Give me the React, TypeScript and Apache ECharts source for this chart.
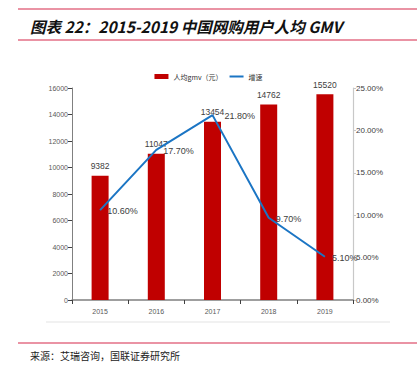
import React, { useEffect, useRef } from "react";
import * as echarts from "echarts";

const categories = ["2015", "2016", "2017", "2018", "2019"];
const gmvValues = [9382, 11047, 13454, 14762, 15520];
const growthValues = [10.6, 17.7, 21.8, 9.7, 5.1];
const titleText = "图表 22：2015-2019 中国网购用户人均 GMV";
const sourceText = "来源：艾瑞咨询，国联证券研究所";

export default function App() {
  const ref = useRef<HTMLDivElement>(null);
  useEffect(() => {
    const chart = echarts.init(ref.current!, null, { renderer: "svg" });
    const red = "#C00000";
    const blue = "#1B75C4";
    chart.setOption({
      animation: false,
      backgroundColor: "#ffffff",
      textStyle: { fontFamily: "Liberation Sans, Arial, sans-serif" },
      graphic: [
        { type: "line", shape: { x1: 18, y1: 9, x2: 417, y2: 9 }, style: { stroke: "#D6284B", lineWidth: 1.2 } },
        { type: "line", shape: { x1: 18, y1: 40, x2: 417, y2: 40 }, style: { stroke: "#D6284B", lineWidth: 1.2 } },
        {
          type: "text", x: 30, y: 26,
          style: { text: titleText, fontSize: 15.5, fontWeight: "bold", fontStyle: "italic", fill: "#111", fontFamily: "Noto Sans CJK SC", verticalAlign: "middle" },
        },
        { type: "line", shape: { x1: 46, y1: 322, x2: 390, y2: 322 }, style: { stroke: "#e3e3e3", lineWidth: 1 } },
        { type: "line", shape: { x1: 18, y1: 343, x2: 417, y2: 343 }, style: { stroke: "#D6284B", lineWidth: 1.2 } },
        {
          type: "text", x: 30, y: 355,
          style: { text: sourceText, fontSize: 10, fill: "#222", fontFamily: "Noto Sans CJK SC", verticalAlign: "middle" },
        },
      ],
      legend: {
        top: 68,
        left: "center",
        itemWidth: 14,
        itemHeight: 5,
        itemGap: 6,
        textStyle: { fontSize: 7, color: "#333", fontFamily: "Noto Sans CJK SC" },
        data: [
          { name: "人均gmv（元）", icon: "rect" },
          { name: "增速", itemStyle: { opacity: 0 } },
        ],
      },
      grid: { left: 72, right: 64, top: 88, bottom: 65 },
      xAxis: {
        type: "category",
        data: categories,
        axisLine: { lineStyle: { color: "#808080", width: 1.5 } },
        axisTick: { show: true, length: 4, lineStyle: { color: "#404040" } },
        axisLabel: { fontSize: 7, color: "#595959", margin: 8 },
      },
      yAxis: [
        {
          type: "value",
          min: 0,
          max: 16000,
          interval: 2000,
          splitLine: { show: false },
          axisLine: { show: true, lineStyle: { color: "#808080", width: 1 } },
          axisTick: { show: true, length: 4, lineStyle: { color: "#404040" } },
          axisLabel: { fontSize: 7, color: "#595959", margin: 4, formatter: (v: number) => String(v) },
        },
        {
          type: "value",
          min: 0,
          max: 25,
          interval: 5,
          position: "right",
          splitLine: { show: false },
          axisLine: { show: true, lineStyle: { color: "#c8c8c8", width: 1.2 } },
          axisTick: { show: true, length: 3, lineStyle: { color: "#c8c8c8" } },
          axisLabel: { fontSize: 8, color: "#404040", margin: 3, formatter: (v: number) => v.toFixed(2) + "%" },
        },
      ],
      series: [
        {
          name: "人均gmv（元）",
          type: "bar",
          data: gmvValues,
          barWidth: 17,
          itemStyle: { color: red },
          label: { show: true, position: "top", fontSize: 8.5, color: "#404040", distance: 5 },
        },
        {
          name: "增速",
          type: "line",
          yAxisIndex: 1,
          data: growthValues.map((v, i) => (i === 2 ? { value: v, label: { offset: [5, 1] } } : v)),
          symbol: "circle",
          symbolSize: 0.1,
          showSymbol: true,
          lineStyle: { color: blue, width: 2 },
          itemStyle: { color: blue },
          label: {
            show: true,
            position: "right",
            offset: [0, 1],
            distance: 7,
            fontSize: 9,
            color: "#404040",
            formatter: (p: any) => Number(p.value).toFixed(2) + "%",
          },
        },
      ],
    });
    return () => chart.dispose();
  }, []);
  return <div ref={ref} style={{ position: "fixed", left: 0, top: 0, width: 417, height: 365 }} />;
}
